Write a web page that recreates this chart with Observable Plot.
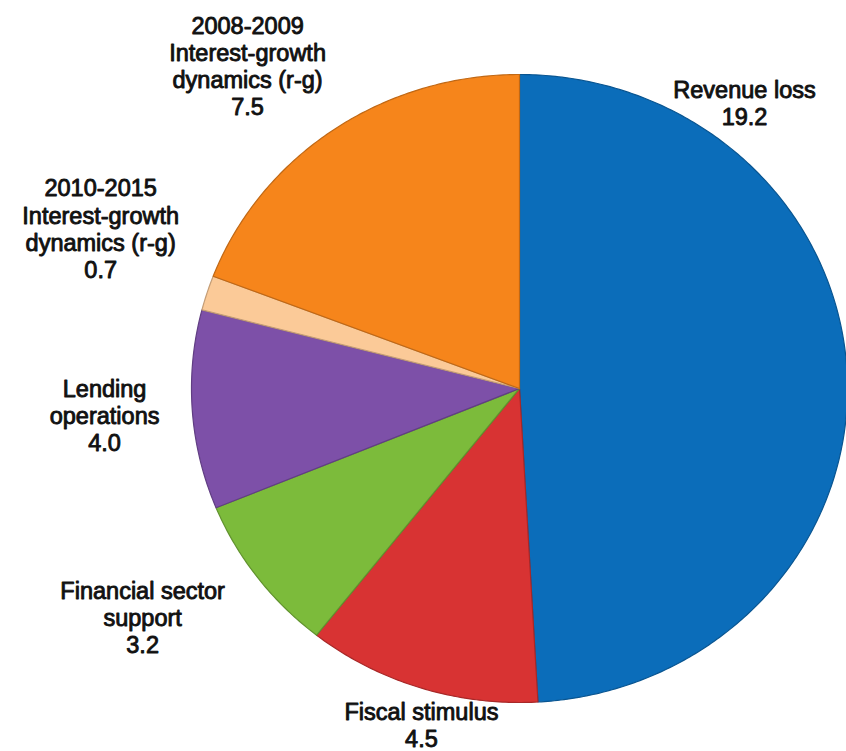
<!DOCTYPE html>
<html>
<head>
<meta charset="utf-8">
<script src="https://cdn.jsdelivr.net/npm/d3@7"></script>
<script src="https://cdn.jsdelivr.net/npm/@observablehq/plot@0.6"></script>
<style>
  html, body { margin: 0; padding: 0; background: #ffffff; }
  #chart { width: 846px; height: 751px; }
</style>
</head>
<body>
<div id="chart"></div>
<script>
// ---- Data ----
const categories = [
  "Revenue loss",
  "Fiscal stimulus",
  "Financial sector support",
  "Lending operations",
  "2010-2015 Interest-growth dynamics (r-g)",
  "2008-2009 Interest-growth dynamics (r-g)"
];
const values = [19.2, 4.5, 3.2, 4.0, 0.7, 7.5];
const labelTexts = [
  "Revenue loss\n19.2",
  "Fiscal stimulus\n4.5",
  "Financial sector\nsupport\n3.2",
  "Lending\noperations\n4.0",
  "2010-2015\nInterest-growth\ndynamics (r-g)\n0.7",
  "2008-2009\nInterest-growth\ndynamics (r-g)\n7.5"
];
const colors = ["#0b6dba", "#d83333", "#7cbb3b", "#7d50a8", "#fbca98", "#f6851b"];

// ---- Layout (label anchors in unit-circle coordinates) ----
const labelPos = [
  [0.686, 0.910],
  [-0.299, -1.070],
  [-1.149, -0.729],
  [-1.265, -0.086],
  [-1.277, 0.510],
  [-0.829, 1.029]
];

// ---- Build slice polygons from d3.pie angles ----
const arcs = d3.pie().sort(null).value(d => d)(values);
const slicePts = [];
arcs.forEach((a, i) => {
  const cat = categories[i];
  slicePts.push({cat, x: 0, y: 0});
  const n = Math.max(4, Math.ceil((a.endAngle - a.startAngle) / 0.01));
  for (let k = 0; k <= n; k++) {
    const t = a.startAngle + (a.endAngle - a.startAngle) * k / n;
    slicePts.push({cat, x: Math.sin(t), y: Math.cos(t)});
  }
});

const labels = categories.map((c, i) => ({cat: c, text: labelTexts[i], x: labelPos[i][0], y: labelPos[i][1]}));

const chart = Plot.plot({
  width: 846,
  height: 751,
  margin: 0,
  style: {background: "#ffffff", fontFamily: "'Liberation Sans', Arial, sans-serif"},
  x: {domain: [-1, 1], range: [191, 847], axis: null},
  y: {domain: [-1, 1], range: [702, 74], axis: null},
  color: {domain: categories, range: colors},
  marks: [
    Plot.line(slicePts, {
      x: "x", y: "y", z: "cat", fill: "cat",
      stroke: d => d3.color(colors[categories.indexOf(d.cat)]).darker(0.7).formatHex(),
      strokeWidth: 1.2, strokeLinejoin: "round",
      curve: "linear-closed"
    }),
    Plot.text(labels, {
      x: "x", y: "y", text: "text",
      fontSize: 23.5, lineHeight: 1.15,
      fill: "#111111", stroke: "#111111", strokeWidth: 0.9,
      textAnchor: "middle", lineAnchor: "middle"
    })
  ]
});
document.getElementById("chart").appendChild(chart);
</script>
</body>
</html>
